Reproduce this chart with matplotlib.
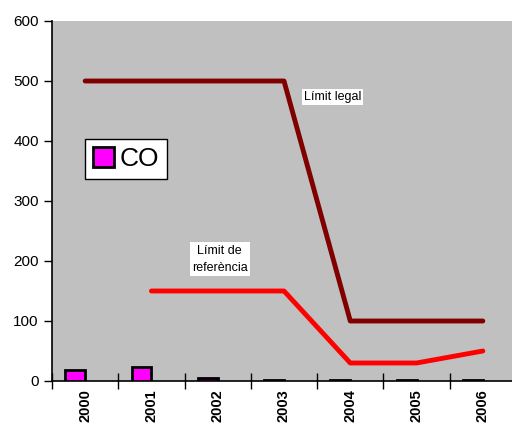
import matplotlib
matplotlib.use('Agg')
import matplotlib.pyplot as plt
import numpy as np

# data
years = ['2000', '2001', '2002', '2003', '2004', '2005', '2006']
co = [19, 24, 5, 1.5, 2.5, 1, 1]
limit_legal = [500, 500, 500, 500, 100, 100, 100]
limit_ref = [np.nan, 150, 150, 150, 30, 30, 50]

plt.rcParams['font.family'] = ['Liberation Sans', 'DejaVu Sans']

fig = plt.figure(figsize=(5.12, 4.28), dpi=100)
ax = fig.add_axes([52 / 512, 1 - 381 / 428, 464 / 512, 360 / 428])
ax.set_facecolor('#C0C0C0')

x = np.arange(len(years))
ax.bar(x - 0.15, co, width=0.3, color='#FF00FF', edgecolor='black', linewidth=2, label='CO', zorder=3)
ax.plot(x, limit_legal, color='#800000', linewidth=3.5, solid_capstyle='round', zorder=2)
ax.plot(x, limit_ref, color='#FF0000', linewidth=3.5, solid_capstyle='round', zorder=2)

ax.set_xlim(-0.5, 6.5)
ax.set_ylim(0, 600)
ax.set_yticks(range(0, 601, 100))
ax.tick_params(axis='y', labelsize=11, direction='out', length=6, width=1)
ax.set_xticks(x)
ax.set_xticklabels(years, rotation=90, fontweight='bold', fontsize=10.5)
ax.tick_params(axis='x', length=0, pad=6)
ax.set_xticks(np.arange(-0.5, 7, 1), minor=True)
ax.tick_params(axis='x', which='minor', direction='inout', length=12, width=1)

for side in ['top', 'right']:
    ax.spines[side].set_visible(False)
ax.spines['left'].set_linewidth(1.2)
ax.spines['bottom'].set_linewidth(1.2)

ax.text(3.3, 473, 'Límit legal', fontsize=9, ha='left', va='center',
        bbox=dict(facecolor='white', edgecolor='none', pad=1.5))
ax.text(2.03, 203, 'Límit de\nreferència', fontsize=9, ha='center', va='center',
        linespacing=1.6, bbox=dict(facecolor='white', edgecolor='none', pad=1.5))

leg = ax.legend(loc='upper left', bbox_to_anchor=(0.072, 0.672), fontsize=19,
                frameon=True, fancybox=False, framealpha=1, handlelength=0.8,
                handleheight=0.8, handletextpad=0.2, borderpad=0.3, borderaxespad=0)
leg.get_frame().set_edgecolor('black')
leg.get_frame().set_linewidth(1)

fig.savefig('out.png', dpi=100)
